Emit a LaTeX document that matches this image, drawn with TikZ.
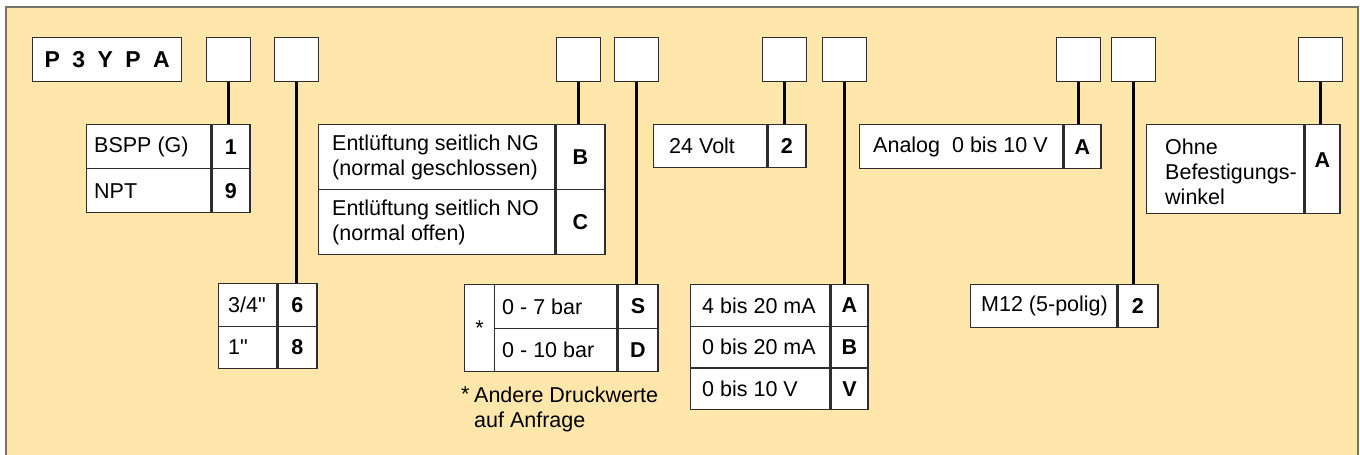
\documentclass[tikz,border=0pt]{standalone}
\usepackage{fontspec}
\setmainfont{Liberation Sans}[Ligatures=TeXOff]
\usepackage{tikz}
\definecolor{paper}{RGB}{255,230,171}
\definecolor{rim}{RGB}{118,116,104}
\definecolor{ink}{RGB}{45,45,45}
\newcommand{\cellfont}{\fontsize{21.5}{25}\selectfont}
\newcommand{\tagfont}{\fontsize{21.5}{25}\selectfont\bfseries}
\newcommand{\headfont}{\fontsize{23}{26}\selectfont\bfseries}

\begin{document}
\begin{tikzpicture}[x=1pt,y=-1pt,
 cell/.style n args={2}{draw=ink,fill=white,line width=1.3pt,anchor=north west,inner sep=0pt,minimum width=#1pt,minimum height=#2pt},
 entry/.style={anchor=west,inner sep=0pt,align=left,font=\cellfont},
 wire/.style={line width=2.6pt}]
\useasboundingbox (0,0) rectangle (1360,455);
\fill[paper,draw=rim,line width=1.6pt] (6,7) rectangle (1358,480);

\node[cell={149}{43.5},font=\headfont] (head) at (32,37) {P\hskip12.4pt 3\hskip12.4pt Y\hskip12.4pt P\hskip12.4pt A};
\foreach \n/\x in {1/206,2/274,3/556,4/614,5/762,6/822,7/1056,8/1111,9/1298} {
   \node[cell={43.5}{43.5}] (s\n) at (\x,37) {};
}

\foreach \r/\txt/\sym in {0/BSPP (G)/1,1/NPT/9} {
   \node[cell={124}{44}] (port\r) at (86,124+44*\r) {};
   \node[cell={38}{44},font=\tagfont] (portc\r) at (port\r.north east) {\sym};
   \node[entry] (portt\r) at ([xshift=8pt]port\r.west) {\txt};
}
\foreach \r/\txt/\sym in {0/{Entlüftung seitlich NG\\(normal geschlossen)}/B,1/{Entlüftung seitlich NO\\(normal offen)}/C} {
   \node[cell={236}{65}] (vent\r) at (318,124+65*\r) {};
   \node[cell={49}{65},font=\tagfont] (ventc\r) at (vent\r.north east) {\sym};
   \node[entry] (ventt\r) at ([xshift=14pt]vent\r.west) {\txt};
}
\node[cell={113}{43}] (volt0) at (653,124) {};
\node[cell={38}{43},font=\tagfont] (voltc0) at (volt0.north east) {2};
\node[entry] (voltt0) at ([xshift=16pt]volt0.west) {24 Volt};

\node[cell={203}{44}] (ana0) at (859,124) {};
\node[cell={37}{44},font=\tagfont] (anac0) at (ana0.north east) {A};
\node[entry] (anat0) at ([xshift=14pt]ana0.west) {Analog\ \ 0 bis 10 V};

\node[cell={157}{89}] (mount0) at (1146,124) {};
\node[cell={35}{89}] (mountc0) at (mount0.north east) {};
\node[font=\tagfont,inner sep=0pt] (mountk0) at ([yshift=9.5pt]mountc0.center) {A};
\node[entry] (mountt0) at ([xshift=19pt,yshift=-3pt]mount0.west) {Ohne\\Befestigungs-\\winkel};

\foreach \r/\txt/\sym in {0/{3/4"}/6,1/1"/8} {
   \node[cell={58}{42.5}] (size\r) at (218,283+42.5*\r) {};
   \node[cell={39}{42.5},font=\tagfont] (sizec\r) at (size\r.north east) {\sym};
   \node[entry] (sizet\r) at ([xshift=10pt]size\r.west) {\txt};
}

\node[cell={30}{87},font=\cellfont] (presstar) at (464,284) {\raisebox{-5pt}{*}};
\foreach \r/\txt/\sym in {0/0 - 7 bar/S,1/0 - 10 bar/D} {
   \node[cell={122}{43.5}] (pres\r) at (494,284+43.5*\r) {};
   \node[cell={40}{43.5},font=\tagfont] (presc\r) at (pres\r.north east) {\sym};
   \node[entry] (prest\r) at ([xshift=8pt]pres\r.west) {\txt};
}
\node[anchor=base west,inner sep=0pt,font=\cellfont] (fnstar) at (461,401.7) {*};
\node[entry] (fntext) at (474,409) {Andere Druckwerte\\auf Anfrage};

\foreach \r/\txt/\sym in {0/4 bis 20 mA/A,1/0 bis 20 mA/B,2/0 bis 10 V/V} {
   \node[cell={139}{41.7}] (sig\r) at (690,284+41.7*\r) {};
   \node[cell={37}{41.7},font=\tagfont] (sigc\r) at (sig\r.north east) {\sym};
   \node[entry] (sigt\r) at ([xshift=12pt]sig\r.west) {\txt};
}
\node[cell={146}{43}] (plug0) at (970,284) {};
\node[cell={40}{43},font=\tagfont] (plugc0) at (plug0.north east) {2};
\node[entry] (plugt0) at ([xshift=11pt]plug0.west) {M12 (5-polig)};

\foreach \a/\b in {s1/portc0,s2/sizec0,s3/ventc0,s4/presc0,s5/voltc0,s6/sigc0,s7/anac0,s8/plugc0,s9/mountc0}
   \draw[wire] (\a.south) -- (\a.south |- \b.north);
\end{tikzpicture}
\end{document}
